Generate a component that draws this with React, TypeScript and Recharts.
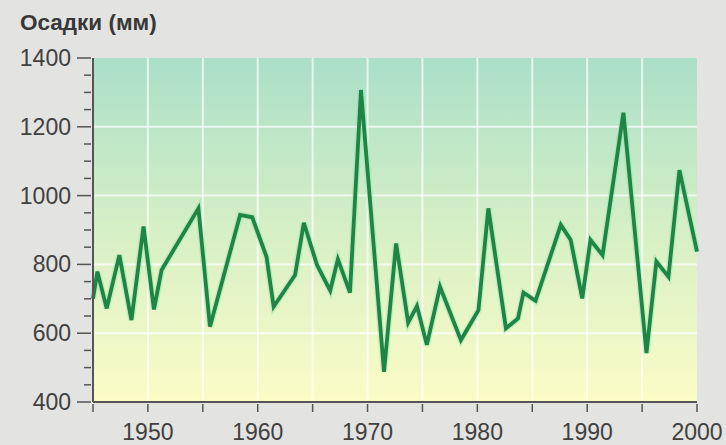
import React from "react";
import {
  LineChart,
  Line,
  XAxis,
  YAxis,
  ReferenceArea,
  ReferenceLine,
} from "recharts";

// vertices of the line (year position, mm)
const years = [
  1945.0, 1945.4, 1946.25, 1947.4, 1948.5, 1949.6, 1950.55, 1951.25, 1954.6,
  1955.65, 1958.4, 1959.5, 1960.8, 1961.45, 1963.4, 1964.2, 1965.4, 1966.6,
  1967.3, 1968.4, 1969.4, 1971.5, 1972.6, 1973.7, 1974.5, 1975.4, 1976.6,
  1978.5, 1980.1, 1981.0, 1982.6, 1983.7, 1984.2, 1985.3, 1987.6, 1988.5,
  1989.55, 1990.3, 1991.4, 1993.3, 1995.4, 1996.3, 1997.4, 1998.4, 2000.0,
];
const rainfall = [
  700, 779, 672, 827, 638, 910, 669, 784, 963, 619, 944, 937, 822, 677, 769,
  921, 798, 724, 815, 718, 1307, 488, 861, 631, 679, 566, 735, 580, 667, 963,
  614, 643, 718, 694, 915, 871, 701, 871, 827, 1241, 542, 808, 764, 1074, 837,
];

const xTicks = [1945, 1950, 1955, 1960, 1965, 1970, 1975, 1980, 1985, 1990, 1995, 2000];
const yTicks = [
  400, 450, 500, 550, 600, 650, 700, 750, 800, 850, 900, 950, 1000, 1050, 1100,
  1150, 1200, 1250, 1300, 1350, 1400,
];
const gridYears = [1950, 1955, 1960, 1965, 1970, 1975, 1980, 1985, 1990, 1995];
const gridLevels = [600, 800, 1000, 1200];

const data = years.map((year, i) => ({ year, mm: rainfall[i] }));

const textColor = "#404040";
const axisColor = "#555";
const font = "'Liberation Sans', Arial, sans-serif";

const YTick = (props: any) => {
  const { x, y, payload } = props;
  const major = payload.value % 200 === 0;
  return (
    <g>
      <line x1={x - (major ? 14 : 7)} x2={x} y1={y} y2={y} stroke={axisColor} strokeWidth={1.5} />
      {major && (
        <text x={x - 20} y={y + 8} textAnchor="end" fill={textColor} fontSize={23} fontFamily={font}>
          {payload.value}
        </text>
      )}
    </g>
  );
};

const XTick = (props: any) => {
  const { x, y, payload } = props;
  const labelled = payload.value % 10 === 0;
  return (
    <g>
      <line x1={x} x2={x} y1={y} y2={y + 8} stroke={axisColor} strokeWidth={1.5} />
      {labelled && (
        <text x={x} y={y + 36} textAnchor="middle" fill={textColor} fontSize={23} fontFamily={font}>
          {payload.value}
        </text>
      )}
    </g>
  );
};

export default function App() {
  return (
    <div
      style={{
        position: "absolute",
        left: 0,
        top: 0,
        width: 726,
        height: 445,
        background: "#e3e3e1",
      }}
    >
      <div
        style={{
          position: "absolute",
          left: 20,
          top: 12,
          fontFamily: font,
          fontWeight: "bold",
          fontSize: 22.5,
          lineHeight: "22px",
          color: "#383838",
        }}
      >
        Осадки (мм)
      </div>
      <LineChart
        width={726}
        height={445}
        data={data}
        margin={{ top: 58, right: 29, bottom: 0, left: 0 }}
      >
        <defs>
          <linearGradient id="bg" x1="0" y1="0" x2="0" y2="1">
            <stop offset="0%" stopColor="#aadfc8" />
            <stop offset="50%" stopColor="#d6efc6" />
            <stop offset="100%" stopColor="#fbfcc6" />
          </linearGradient>
        </defs>
        <XAxis
          dataKey="year"
          type="number"
          domain={[1945, 2000]}
          ticks={xTicks}
          interval={0}
          height={43}
          tickSize={0}
          tickLine={false}
          tick={<XTick />}
          axisLine={{ stroke: axisColor, strokeWidth: 2 }}
        />
        <YAxis
          type="number"
          domain={[400, 1400]}
          ticks={yTicks}
          interval={0}
          width={93}
          tickSize={0}
          tickLine={false}
          tick={<YTick />}
          axisLine={{ stroke: axisColor, strokeWidth: 2 }}
        />
        <ReferenceArea
          x1={1945}
          x2={2000}
          y1={400}
          y2={1400}
          fill="url(#bg)"
          fillOpacity={1}
          stroke="none"
        />
        {gridYears.map((yr) => (
          <ReferenceLine key={"v" + yr} x={yr} stroke="#ffffff" strokeWidth={2} strokeOpacity={0.7} />
        ))}
        {gridLevels.map((lv) => (
          <ReferenceLine key={"h" + lv} y={lv} stroke="#ffffff" strokeWidth={2} strokeOpacity={0.7} />
        ))}
        <Line
          type="linear"
          dataKey="mm"
          stroke="#7fe0a0"
          strokeWidth={6.5}
          strokeOpacity={0.35}
          dot={false}
          activeDot={false}
          isAnimationActive={false}
        />
        <Line
          type="linear"
          dataKey="mm"
          stroke="#1e8545"
          strokeWidth={3.8}
          dot={false}
          activeDot={false}
          isAnimationActive={false}
        />
      </LineChart>
    </div>
  );
}
